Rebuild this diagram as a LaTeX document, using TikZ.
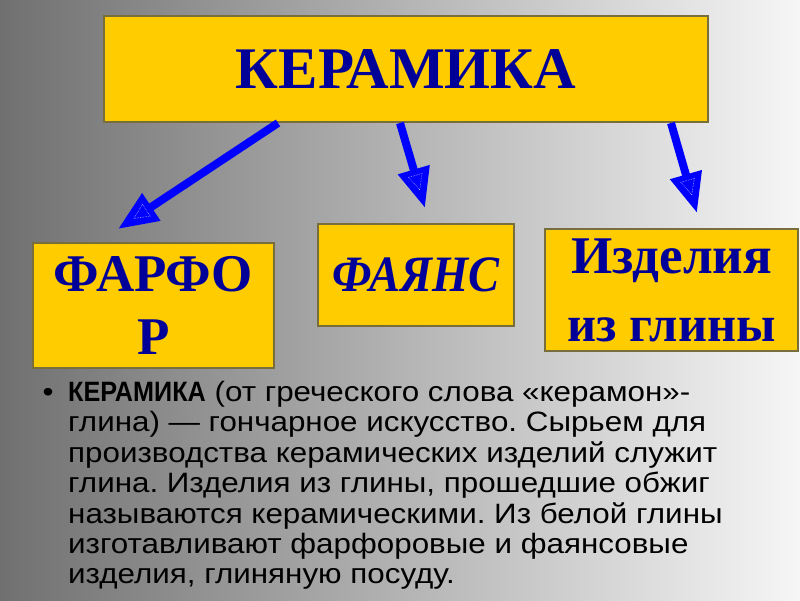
\documentclass[tikz,border=0pt]{standalone}
\usepackage{fontspec}
\setmainfont{Liberation Serif}
\newfontfamily\serifnarrow[FakeStretch=0.91]{Liberation Serif}
\newfontfamily\bodyfont[FakeStretch=1.12, BoldFeatures={FakeStretch=0.9}]{Liberation Sans}
\usetikzlibrary{arrows.meta,calc}
\definecolor{boxfill}{RGB}{255,204,0}
\definecolor{boxline}{RGB}{120,110,60}
\definecolor{navy}{RGB}{0,0,153}
\definecolor{arrowblue}{RGB}{0,0,255}
\definecolor{bgleft}{RGB}{112,112,112}
\definecolor{bgright}{RGB}{246,246,246}
\tikzset{
  ybox/.style={draw=boxline, line width=1.2pt, fill=boxfill, rectangle, inner sep=0pt, text=navy, align=center, font=\bfseries},
  bluearrow/.style={draw=arrowblue, line width=8pt, -{Triangle[length=40pt,width=31pt]}},
  innertri/.style={draw=white!70!arrowblue, line width=0.6pt, densely dotted},
  bodytext/.style={font=\bodyfont\fontsize{28}{30.4}\selectfont\frenchspacing, inner sep=0pt}
}
\begin{document}
\begin{tikzpicture}[x=1pt,y=-1pt]
\useasboundingbox (0,0) rectangle (800,600);
\shade[left color=bgleft, right color=bgright] (0,0) rectangle (800,600);
% boxes
\node[ybox, minimum width=604pt, minimum height=106pt, font=\bfseries\fontsize{59}{64}\selectfont] (ker) at (406,69) {КЕРАМИКА};
\node[ybox, minimum width=241pt, minimum height=125pt, font=\bfseries\fontsize{53}{63}\selectfont] (far) at (153.5,305.5) {ФАРФО\\Р};
\node[ybox, minimum width=196pt, minimum height=102pt, font=\serifnarrow\bfseries\itshape\fontsize{51}{60}\selectfont] (fay) at (416,275) {ФАЯНС};
\node[ybox, minimum width=253pt, minimum height=122pt, font=\bfseries\fontsize{53}{68}\selectfont] (izd) at (671.5,290) {Изделия\\{\fontsize{50.5}{68}\selectfont из глины}};
% arrows
\coordinate (s1) at (278,123);
\coordinate (t1) at (118,229);
\coordinate (s2) at (400,123);
\coordinate (t2) at (425,208);
\coordinate (s3) at (671,123);
\coordinate (t3) at (697,213);
\foreach \i in {1,2,3}{
  \draw[bluearrow] (s\i) -- (t\i);
  \coordinate (p\i) at ($(t\i)!19pt!(s\i)$);
  \coordinate (m\i) at ($(t\i)!34pt!(s\i)$);
  \coordinate (q\i) at ($(m\i)!7pt!90:(t\i)$);
  \coordinate (r\i) at ($(m\i)!7pt!-90:(t\i)$);
  \draw[innertri] (p\i) -- (q\i) -- (r\i) -- cycle;
}
% body text
\node[bodytext, anchor=base] (bul) at (48,401) {•};
\node[bodytext, anchor=north west, align=left] (body) at (68,381) {%
\textbf{КЕРАМИКА} (от греческого слова «керамон»-\\
глина) — гончарное искусство. Сырьем для\\
производства керамических изделий служит\\
глина. Изделия из глины, прошедшие обжиг\\
называются керамическими. Из белой глины\\
изготавливают фарфоровые и фаянсовые\\
изделия, глиняную посуду.};
\end{tikzpicture}
\end{document}
